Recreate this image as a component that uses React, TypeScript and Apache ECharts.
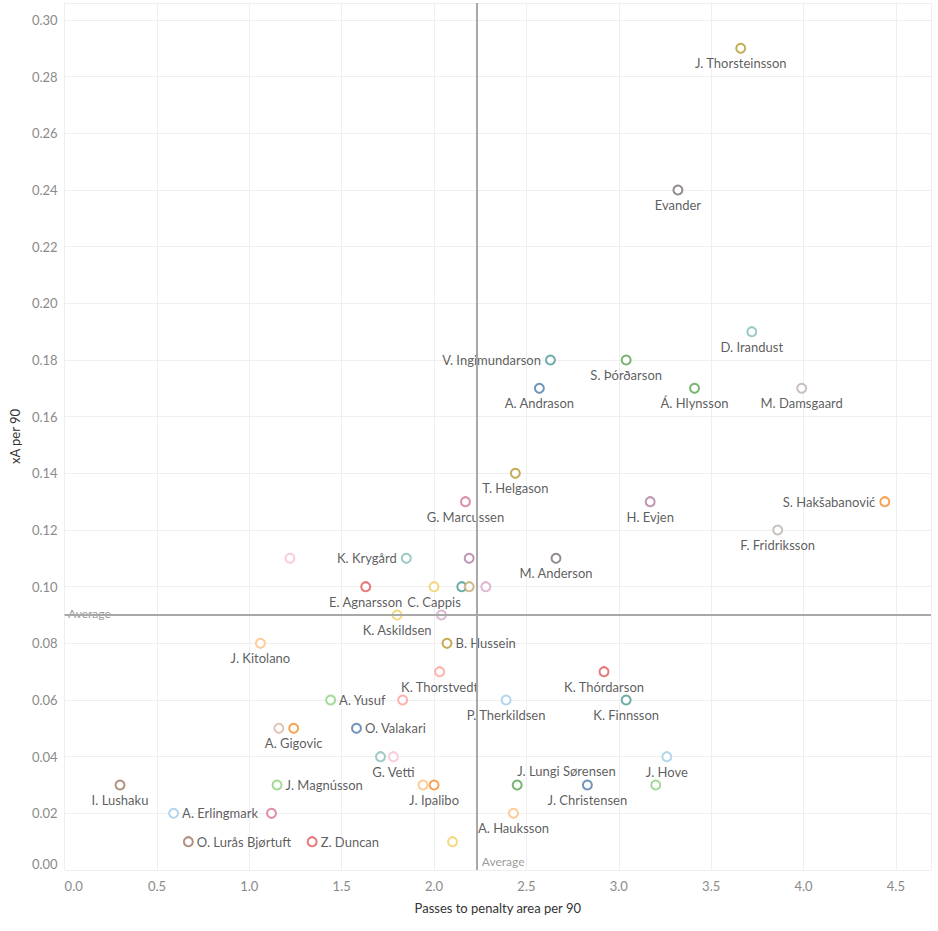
import { useEffect, useRef } from "react";
import * as echarts from "echarts";

// Player names ('' = unlabeled mark)
const players: string[] = [
  "J. Thorsteinsson", "Evander", "D. Irandust", "S. Þórðarson", "Á. Hlynsson",
  "M. Damsgaard", "V. Ingimundarson", "A. Andrason", "T. Helgason", "G. Marcussen",
  "H. Evjen", "S. Hakšabanović", "F. Fridriksson", "", "K. Krygård",
  "", "M. Anderson", "E. Agnarsson", "C. Cappis", "",
  "", "", "K. Askildsen", "", "J. Kitolano",
  "B. Hussein", "K. Thorstvedt", "K. Thórdarson", "A. Yusuf", "",
  "P. Therkildsen", "K. Finnsson", "", "A. Gigovic", "O. Valakari",
  "", "G. Vetti", "J. Hove", "I. Lushaku", "J. Magnússon",
  "", "J. Ipalibo", "J. Lungi Sørensen", "J. Christensen", "",
  "A. Erlingmark", "", "A. Hauksson", "O. Lurås Bjørtuft", "Z. Duncan",
  "",
];

// Passes to penalty area per 90
const passesPer90: number[] = [
  3.66, 3.32, 3.72, 3.04, 3.41,
  3.99, 2.63, 2.57, 2.44, 2.17,
  3.17, 4.44, 3.86, 1.22, 1.85,
  2.19, 2.66, 1.63, 2.0, 2.15,
  2.19, 2.28, 1.8, 2.04, 1.06,
  2.07, 2.03, 2.92, 1.44, 1.83,
  2.39, 3.04, 1.16, 1.24, 1.58,
  1.71, 1.78, 3.26, 0.3, 1.15,
  1.94, 2.0, 2.45, 2.83, 3.2,
  0.59, 1.12, 2.43, 0.67, 1.34,
  2.1,
];

// xA per 90
const xaPer90: number[] = [
  0.29, 0.24, 0.19, 0.18, 0.17,
  0.17, 0.18, 0.17, 0.14, 0.13,
  0.13, 0.13, 0.12, 0.11, 0.11,
  0.11, 0.11, 0.1, 0.1, 0.1,
  0.1, 0.1, 0.09, 0.09, 0.08,
  0.08, 0.07, 0.07, 0.06, 0.06,
  0.06, 0.06, 0.05, 0.05, 0.05,
  0.04, 0.04, 0.04, 0.03, 0.03,
  0.03, 0.03, 0.03, 0.03, 0.03,
  0.02, 0.02, 0.02, 0.01, 0.01,
  0.01,
];

// Averages (reference lines)
const avgPasses = 2.234;
const avgXa = 0.0876;

// Styles (kept apart from the data)
const markColors: string[] = [
  "#b6992d", "#79706e", "#86bcb6", "#59a14f", "#59a14f",
  "#bab0ac", "#499894", "#4e79a7", "#b6992d", "#d37295",
  "#b07aa1", "#f28e2b", "#bab0ac", "#fabfd2", "#86bcb6",
  "#b07aa1", "#79706e", "#e15759", "#f1ce63", "#499894",
  "#c4a870", "#d4a6c8", "#f1ce63", "#d4a6c8", "#ffbe7d",
  "#b6992d", "#ff9d9a", "#e15759", "#8cd17d", "#ff9d9a",
  "#a0cbe8", "#499894", "#d7b5a6", "#f28e2b", "#4e79a7",
  "#86bcb6", "#fabfd2", "#a0cbe8", "#9d7660", "#8cd17d",
  "#ffbe7d", "#f28e2b", "#59a14f", "#4e79a7", "#8cd17d",
  "#a0cbe8", "#d37295", "#ffbe7d", "#9d7660", "#e15759",
  "#f1ce63",
];

const rightLabels = new Set(["B. Hussein", "A. Yusuf", "O. Valakari", "J. Magnússon", "A. Erlingmark", "O. Lurås Bjørtuft", "Z. Duncan"]);
const leftLabels = new Set(["V. Ingimundarson", "S. Hakšabanović", "K. Krygård"]);
const topRightLabels = new Set(["J. Lungi Sørensen"]);

const FONT = "Lato, 'Noto Sans', sans-serif";
const FS = 13;

function labelFor(name: string): any {
  if (!name) return { show: false };
  const base: any = { show: true, formatter: name, color: "#333", fontSize: FS, fontFamily: FONT };
  if (rightLabels.has(name)) return { ...base, position: "right", distance: 3 };
  if (leftLabels.has(name)) return { ...base, position: "left", distance: 4 };
  if (topRightLabels.has(name)) return { ...base, position: "top", align: "left", distance: 2 };
  return { ...base, position: "bottom", distance: 3 };
}

const isMultiple = (v: number, step: number) => Math.abs(v / step - Math.round(v / step)) < 1e-6;

export default function App() {
  const ref = useRef<HTMLDivElement>(null);
  useEffect(() => {
    const chart = echarts.init(ref.current!, null, { renderer: "svg" });
    const pointData = players.map((name, i) => ({
      name: name || `unlabeled-${i}`,
      value: [passesPer90[i], xaPer90[i]],
      itemStyle: { color: "#ffffff", borderColor: markColors[i], borderWidth: 2 },
      label: labelFor(name),
    }));
    chart.setOption({
      animation: false,
      backgroundColor: "#ffffff",
      textStyle: { fontFamily: FONT },
      grid: { left: 63, right: 7, top: 3, bottom: 61, containLabel: false },
      xAxis: {
        type: "value",
        min: 0,
        max: 4.69,
        interval: 0.5,
        name: "Passes to penalty area per 90",
        nameLocation: "middle",
        nameGap: 31,
        nameTextStyle: { color: "#333", fontSize: FS, fontFamily: FONT },
        axisLine: { show: false },
        axisTick: { show: false },
        splitLine: { show: true, lineStyle: { color: "#efefef", width: 1 } },
        axisLabel: {
          color: "#8a8a8a",
          fontSize: FS,
          fontFamily: FONT,
          margin: 9,
          alignMinLabel: "left",
          formatter: (v: number) => (isMultiple(v, 0.5) ? v.toFixed(1) : ""),
        },
      },
      yAxis: {
        type: "value",
        min: 0,
        max: 0.306,
        interval: 0.02,
        name: "xA per 90",
        nameLocation: "middle",
        nameGap: 41,
        nameTextStyle: { color: "#333", fontSize: FS, fontFamily: FONT },
        axisLine: { show: false },
        axisTick: { show: false },
        splitLine: { show: true, lineStyle: { color: "#efefef", width: 1 } },
        axisLabel: {
          color: "#8a8a8a",
          fontSize: FS,
          fontFamily: FONT,
          margin: 7,
          verticalAlignMinLabel: "bottom",
          formatter: (v: number) => (isMultiple(v, 0.02) ? v.toFixed(2) : ""),
        },
      },
      series: [
        {
          type: "scatter",
          name: "averages",
          symbolSize: 1,
          itemStyle: { color: "rgba(0,0,0,0)" },
          silent: true,
          z: 1,
          data: [
            {
              value: [avgPasses, 0],
              label: {
                show: true, formatter: "Average", position: [5, -2], align: "left", verticalAlign: "bottom",
                color: "#808080", fontSize: 12, fontFamily: FONT,
              },
            },
            {
              value: [0, avgXa],
              label: {
                show: true, formatter: "Average", position: [4, -2], align: "left", verticalAlign: "bottom",
                color: "#808080", fontSize: 12, fontFamily: FONT,
              },
            },
          ],
          markLine: {
            silent: true,
            symbol: "none",
            label: { show: false },
            lineStyle: { color: "#a8a8a8", width: 2, type: "solid" },
            data: [{ xAxis: avgPasses }, { yAxis: avgXa }],
          },
        },
        {
          type: "scatter",
          name: "players",
          symbol: "circle",
          symbolSize: 9,
          z: 3,
          data: pointData,
        },
      ],
    });
    return () => chart.dispose();
  }, []);
  return <div ref={ref} style={{ position: "absolute", left: 0, top: 0, width: 938, height: 931 }} />;
}
